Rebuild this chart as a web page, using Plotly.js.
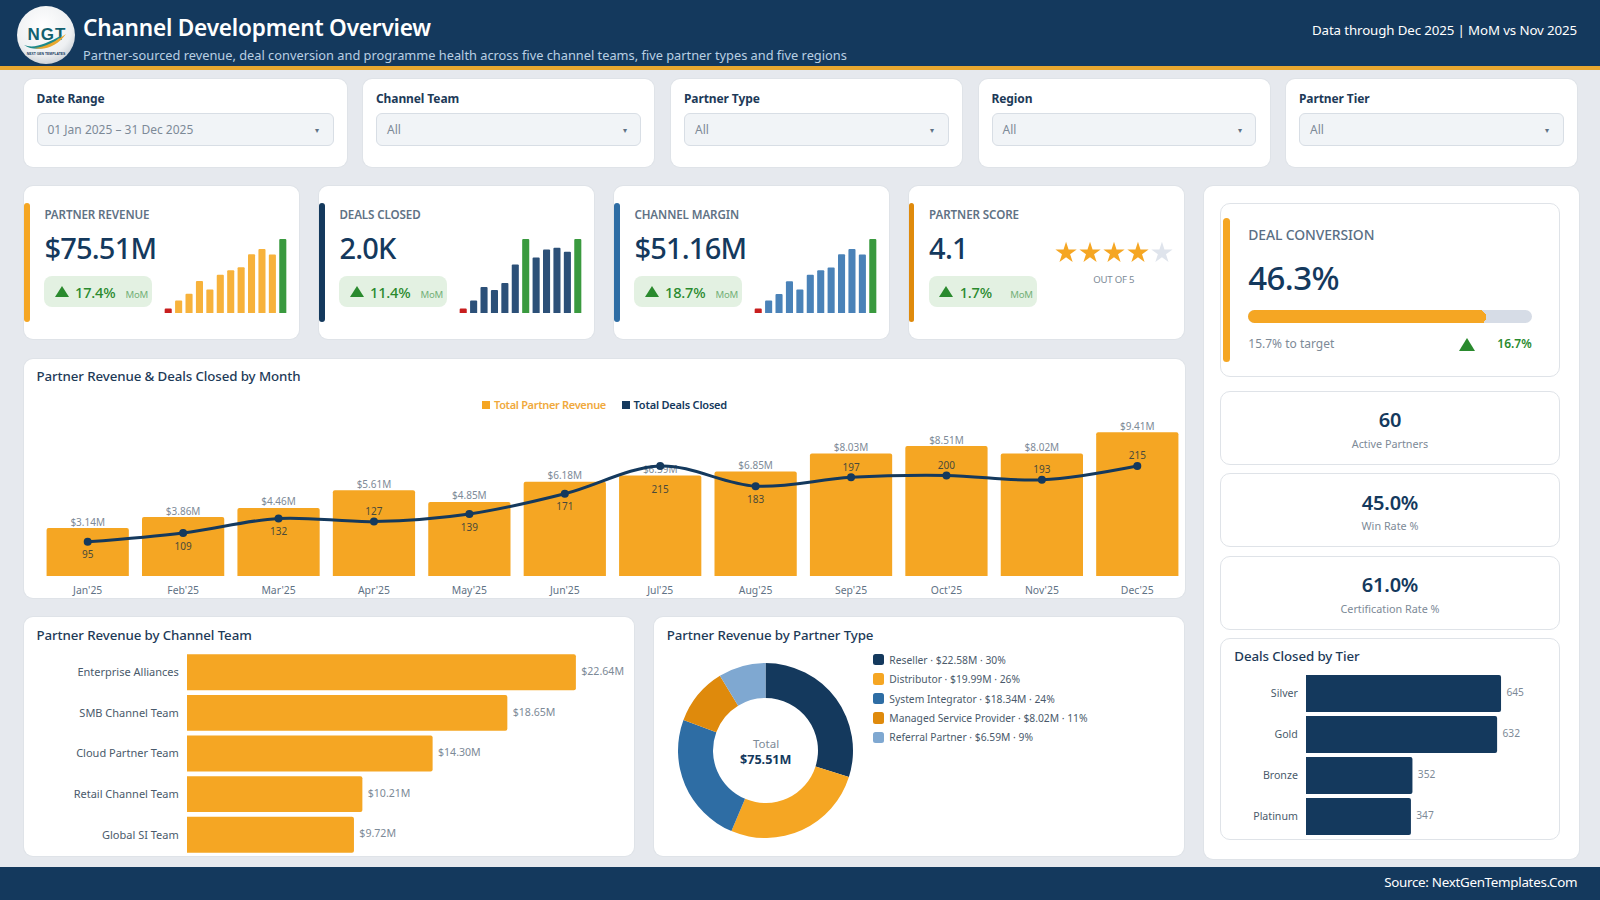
<!DOCTYPE html>
<html><head><meta charset="utf-8">
<script src="https://cdn.plot.ly/plotly-3.0.1.min.js"></script>
<style>
*{box-sizing:border-box}
html,body{margin:0;padding:0;width:1600px;height:900px;overflow:hidden;background:#e6e9ee;font-family:"Noto Sans",sans-serif;color:#14395d}
.a{position:absolute;white-space:nowrap}
.card{position:absolute;background:#fff;border-radius:9px;box-shadow:0 0 0 1px #dfe3e8}
.sub{position:absolute;background:#fff;border:1.5px solid #dfe3e8;border-radius:10px}
.ttl{position:absolute;white-space:nowrap;font-size:13.3px;font-weight:500;color:#1d3a58;line-height:18px;letter-spacing:-.1px}
.lab{position:absolute;white-space:nowrap;font-size:11.6px;font-weight:600;color:#5f7285;line-height:14px;letter-spacing:-.1px}
.val{position:absolute;white-space:nowrap;font-size:29px;font-weight:500;color:#14395d;line-height:36px;letter-spacing:-.8px}
.drop{position:absolute;background:#f1f4f7;border:1.5px solid #d8dee5;border-radius:6px;top:113px;height:33px}
.flabel{position:absolute;top:90px;font-size:12px;font-weight:700;color:#1d3a58;line-height:17px;letter-spacing:-.1px;white-space:nowrap}
.dtxt{position:absolute;top:121px;font-size:12px;color:#7d8a97;line-height:17px;white-space:nowrap}
.tri{position:absolute;width:0;height:0;border-left:7px solid transparent;border-right:7px solid transparent;border-bottom:11px solid #2a8a2e}
.pill{position:absolute;background:#e3f1e2;border-radius:8px;top:276px;height:31px;width:108px}
.chart{position:absolute}
</style></head><body>
<div id="root"></div>
<script>
// ---- data ----
var months = ["Jan'25","Feb'25","Mar'25","Apr'25","May'25","Jun'25","Jul'25","Aug'25","Sep'25","Oct'25","Nov'25","Dec'25"];
var revenue = [3.14,3.86,4.46,5.61,4.85,6.18,6.59,6.85,8.03,8.51,8.02,9.41];
var deals = [95,109,132,127,139,171,215,183,197,200,193,215];
var margin = [2.13,2.62,3.02,3.80,3.29,4.19,4.46,4.64,5.44,5.77,5.43,6.38];
var teams = ["Enterprise Alliances","SMB Channel Team","Cloud Partner Team","Retail Channel Team","Global SI Team"];
var teamRevenue = [22.64,18.65,14.30,10.21,9.72];
var partnerTypes = ["Reseller","Distributor","System Integrator","Managed Service Provider","Referral Partner"];
var partnerRevenue = [22.58,19.99,18.34,8.02,6.59];
var partnerShare = [30,26,24,11,9];
var tiers = ["Silver","Gold","Bronze","Platinum"];
var tierDeals = [645,632,352,347];
var starValues = [1,2,3,4,5];
var conversion = 46.3;

// ---- styles ----
var partnerColors = ["#14395d","#f5a623","#2e6da4","#df8a0c","#7fa8d1"];
var starColors = ["#f5a623","#f5a623","#f5a623","#f5a623","#dfe4ec"];
var dealLabelPos = ["bottom center","bottom center","bottom center","top center","bottom center","bottom center","bottom center","bottom center","top center","top center","top center","top center"];
var dealLabelGap = [13,13,13,5,13,13,30,13,5,5,5,5];

var filters = [
 {l:"Date Range",v:"01 Jan 2025 – 31 Dec 2025",cx:23.5,cw:323,dx:36.5,dw:297.5,arr:317},
 {l:"Channel Team",v:"All",cx:363,cw:291,dx:376,dw:264.5,arr:624.5},
 {l:"Partner Type",v:"All",cx:671,cw:291,dx:684,dw:264.5,arr:932},
 {l:"Region",v:"All",cx:978.5,cw:291,dx:991.5,dw:264,arr:1239.5},
 {l:"Partner Tier",v:"All",cx:1286,cw:291,dx:1299,dw:264.5,arr:1547}
];
var kpis = [
 {x:24,l:"PARTNER REVENUE",v:"$75.51M",d:"17.4%",c:"#f5a623"},
 {x:319,l:"DEALS CLOSED",v:"2.0K",d:"11.4%",c:"#14395d"},
 {x:614,l:"CHANNEL MARGIN",v:"$51.16M",d:"18.7%",c:"#2e6da4"},
 {x:908.7,l:"PARTNER SCORE",v:"4.1",d:"1.7%",c:"#df8a0c"}
];
var stats = [
 {v:"60",l:"Active Partners",t:390.5,h:74},
 {v:"45.0%",l:"Win Rate %",t:473,h:74},
 {v:"61.0%",l:"Certification Rate %",t:555.5,h:74}
];

// ---- static page ----
var root = document.getElementById('root'), h = '';
function box(cls,x,y,w,ht,extra){return '<div class="'+cls+'" style="left:'+x+'px;top:'+y+'px;width:'+w+'px;height:'+ht+'px;'+(extra||'')+'"></div>';}
function txt(s,x,cy,size,color,weight,align,extra){
  var pos = align==='r' ? 'right:'+(1600-x)+'px' : align==='c' ? 'left:'+x+'px;transform:translateX(-50%)' : 'left:'+x+'px';
  return '<div class="a" style="'+pos+';top:'+(cy-15)+'px;line-height:30px;font-size:'+size+'px;color:'+color+';font-weight:'+(weight||400)+';'+(extra||'')+'">'+s+'</div>';
}
// header
h += box('a',0,0,1600,66,'background:#14395d');
h += box('a',0,66,1600,4,'background:#e8a72f');
h += '<svg class="a" style="left:16px;top:5px" width="60" height="60" viewBox="0 0 60 60"><defs><radialGradient id="lg" cx="45%" cy="35%" r="70%"><stop offset="0" stop-color="#ffffff"/><stop offset=".7" stop-color="#eef0f2"/><stop offset="1" stop-color="#c6ccd2"/></radialGradient></defs><circle cx="30" cy="30" r="29" fill="url(#lg)"/><text x="31" y="35" text-anchor="middle" font-family="Liberation Sans" font-weight="700" font-size="17" letter-spacing="1" fill="#12606f">NGT</text><path d="M8 40 C18 44 30 39 46 30 C36 43 20 48 8 40Z" fill="#1c8a8a"/><path d="M18 43 C30 42 40 36 50 29 C42 40 30 46 18 43Z" fill="#e8a72f"/><text x="30" y="50" text-anchor="middle" font-family="Liberation Sans" font-weight="700" font-size="3.4" fill="#14395d">NEXT GEN TEMPLATES</text></svg>';
h += txt('Channel Development Overview',83,27.5,22.6,'#fff',600,'l','letter-spacing:-.2px');
h += txt('Partner-sourced revenue, deal conversion and programme health across five channel teams, five partner types and five regions',83,54.7,12.8,'#b9cfe3',400,'l');
h += txt('Data through Dec 2025 | MoM vs Nov 2025',1577,30,13.3,'#fff',400,'r','letter-spacing:-.12px');
// filters
filters.forEach(function(f){
  h += box('card',f.cx,78.5,f.cw,88);
  h += '<div class="flabel" style="left:'+f.dx+'px">'+f.l+'</div>';
  h += box('drop',f.dx,113,f.dw,33);
  h += '<div class="dtxt" style="left:'+(f.dx+11)+'px">'+f.v+'</div>';
  h += txt('▾',f.arr,129.5,8,'#5f7285',400,'c');
});
// kpis
kpis.forEach(function(k){
  h += box('card',k.x,186,275,153);
  h += box('a',k.x,203,5.5,119,'background:'+k.c+';border-radius:3px');
  h += '<div class="lab" style="left:'+(k.x+20.4)+'px;top:208px">'+k.l+'</div>';
  h += '<div class="val" style="left:'+(k.x+20.4)+'px;top:230px">'+k.v+'</div>';
  h += '<div class="pill" style="left:'+(k.x+20.4)+'px"></div>';
  h += '<div class="tri" style="left:'+(k.x+30.6)+'px;top:286px"></div>';
  h += txt(k.d,k.x+51,292,14.6,'#2a8a2e',500,'l','letter-spacing:-.2px');
  h += txt('MoM',k.x+101.5,295,9.6,'#74b078',400,'l','letter-spacing:-.2px');
});
h += txt('OUT OF 5',1113.8,279.7,9.6,'#7d8a97',400,'c','letter-spacing:-.2px');
// main chart card
h += box('card',24,359,1160.5,239);
h += '<div class="ttl" style="left:36.5px;top:367px">Partner Revenue &amp; Deals Closed by Month</div>';
h += box('a',482,401,8,8,'background:#f5a623');
h += txt('Total Partner Revenue',494,405,11,'#f0a93c',600,'l','letter-spacing:-.33px');
h += box('a',621.5,401,8,8,'background:#14395d');
h += txt('Total Deals Closed',633.5,405,11,'#14395d',600,'l','letter-spacing:-.2px');
// bottom cards
h += box('card',24,617,609.5,239);
h += '<div class="ttl" style="left:36.5px;top:626px">Partner Revenue by Channel Team</div>';
h += box('card',653.5,617,530,239);
h += '<div class="ttl" style="left:666.8px;top:626px">Partner Revenue by Partner Type</div>';
partnerTypes.forEach(function(p,i){
  var cy = 659.7+i*19.4;
  h += box('a',873,cy-5.7,11.4,11.4,'background:'+partnerColors[i]+';border-radius:2.5px');
  h += txt(p+' · $'+partnerRevenue[i].toFixed(2)+'M · '+partnerShare[i]+'%',889.3,cy,10.3,'#4a5a6b',400,'l');
});
// right panel
h += box('card',1204,186,375,673);
h += box('sub',1220.2,202.5,339.6,174.5);
h += box('a',1223.3,217.7,6.7,144.6,'background:#f5a623;border-radius:3.5px');
h += txt('DEAL CONVERSION',1248.3,235,13.9,'#5a6f85',500,'l','letter-spacing:-.1px');
h += txt('46.3%',1248.3,278,33,'#14395d',500,'l','letter-spacing:-.6px');
h += box('a',1248.3,309.7,283.4,13.6,'background:#d6dce6;border-radius:7px');
h += txt('15.7% to target',1248.3,344,12,'#7d8a97',400,'l');
h += '<div class="tri" style="left:1458.7px;top:338px;border-left-width:8px;border-right-width:8px;border-bottom-width:13.5px"></div>';
h += txt('16.7%',1531.7,343.5,12,'#2a8a2e',600,'r');
stats.forEach(function(s){
  h += box('sub',1220.2,s.t,339.6,s.h);
  h += txt(s.v,1390,s.t+29.7,20,'#14395d',600,'c','letter-spacing:-.2px');
  h += txt(s.l,1390,s.t+53.4,10.8,'#7d8a97',400,'c');
});
h += box('sub',1220.2,638,339.6,201.5);
h += '<div class="ttl" style="left:1234.3px;top:647px">Deals Closed by Tier</div>';
// footer
h += box('a',0,867,1600,33,'background:#14395d');
h += txt('Source: NextGenTemplates.Com',1577.3,881.7,13.4,'#fff',400,'r','letter-spacing:-.3px');
// chart holders
function holder(id,x,y,w,ht,extra){return '<div id="'+id+'" class="chart" style="left:'+x+'px;top:'+y+'px;width:'+w+'px;height:'+ht+'px;'+(extra||'')+'"></div>';}
h += holder('c_spark0',24+138.8,236,125.4,77);
h += holder('c_spark1',319+138.8,236,125.4,77);
h += holder('c_spark2',614+138.8,236,125.4,77);
h += holder('c_stars',1050,240.5,128,24);
h += holder('c_main',24,410,1162,188);
h += holder('c_team',24,640,609,216);
h += holder('c_donut',654,650,224,204);
h += holder('c_gauge',1248.3,309.7,283.4,13.6,'border-radius:7px;overflow:hidden');
h += holder('c_tier',1221,665,338,174);
root.innerHTML = h;

// ---- charts ----
var FONT = '"Noto Sans",sans-serif';
var cfg = {staticPlot:true,displayModeBar:false,responsive:false};
var hidden = {visible:false,showgrid:false,zeroline:false,fixedrange:true};
var clearTick = {ticks:'outside',tickcolor:'rgba(0,0,0,0)',tickwidth:1};
function base(w,ht,m){return {width:w,height:ht,margin:m,paper_bgcolor:'rgba(0,0,0,0)',plot_bgcolor:'rgba(0,0,0,0)',showlegend:false,font:{family:FONT}};}

function spark(id,vals,col,lo){
  var mx=Math.max.apply(null,vals), mn=Math.min.apply(null,vals);
  var colors=vals.map(function(v,i){return (v===mx)?'#3a9a3f':(v===mn)?'#c81e1e':col;});
  Plotly.newPlot(id,[{type:'bar',x:months,y:vals,marker:{color:colors,cornerradius:1.5},hoverinfo:'skip'}],
    Object.assign(base(125.4,77,{l:0,r:0,t:3,b:0}),{bargap:.32,xaxis:Object.assign({},hidden,{type:'category'}),yaxis:Object.assign({},hidden,{range:[lo,mx]})}),cfg);
}
spark('c_spark0',revenue,'#f7b23b',2.73);
spark('c_spark1',deals,'#2c5078',87.2);
spark('c_spark2',margin,'#4a82b8',1.85);

Plotly.newPlot('c_stars',[{type:'scatter',mode:'markers',x:starValues,y:[0,0,0,0,0],marker:{symbol:'star',size:16,color:starColors,line:{width:0}},hoverinfo:'skip'}],
  Object.assign(base(128,24,{l:0,r:0,t:0,b:0}),{xaxis:Object.assign({},hidden,{range:[0.33,5.67]}),yaxis:Object.assign({},hidden,{range:[-1,1]})}),cfg);

Plotly.newPlot('c_main',[
 {type:'bar',x:months,y:revenue,marker:{color:'#f5a623',cornerradius:2.5},hoverinfo:'skip',yaxis:'y'},
 {type:'scatter',mode:'text',x:months,y:revenue,text:revenue.map(function(v){return '$'+v.toFixed(2)+'M';}),textposition:'top center',cliponaxis:false,
  textfont:{size:10,color:'#7d8a97',family:FONT},hoverinfo:'skip',yaxis:'y'},
 {type:'scatter',mode:'lines+markers',x:months,y:deals,line:{color:'#14395d',width:3,shape:'spline',smoothing:1},marker:{color:'#14395d',size:8},hoverinfo:'skip',yaxis:'y2'},
 {type:'scatter',mode:'markers+text',x:months,y:deals,text:deals.map(String),textposition:dealLabelPos,cliponaxis:false,
  textfont:{size:10,color:'#4a4a3a',family:FONT},marker:{color:'rgba(0,0,0,0)',size:dealLabelGap,line:{width:0,color:'rgba(0,0,0,0)'}},hoverinfo:'skip',yaxis:'y2'}
],Object.assign(base(1162,188,{l:15.7,r:0.8,t:5,b:22.4}),{bargap:.138,
  xaxis:Object.assign({type:'category',range:[-.5,11.5],showgrid:false,zeroline:false,showline:false,ticklen:5,tickfont:{size:10.4,color:'#5f7285',family:FONT},fixedrange:true},clearTick),
  yaxis:Object.assign({},hidden,{range:[0,10.546]}),
  yaxis2:Object.assign({},hidden,{overlaying:'y',range:[41,295.5]})}),cfg);

function hbar(id,cats,vals,w,ht,m,rng,gap,col,labels,size,tl){
  Plotly.newPlot(id,[
    {type:'bar',orientation:'h',y:cats,x:vals,marker:{color:col,cornerradius:2.5},hoverinfo:'skip'},
    {type:'scatter',mode:'markers+text',y:cats,x:vals,text:labels,textposition:'middle right',cliponaxis:false,
     textfont:{size:size,color:'#7d8a97',family:FONT},marker:{color:'rgba(0,0,0,0)',size:7,line:{width:0}},hoverinfo:'skip'}],
    Object.assign(base(w,ht,m),{bargap:gap,
      xaxis:Object.assign({},hidden,{range:rng}),
      yaxis:Object.assign({type:'category',range:[cats.length-.5,-.5],showgrid:false,zeroline:false,showline:false,ticklen:tl,tickfont:{size:size+.4,color:'#4a5a6b',family:FONT},fixedrange:true},clearTick)}),cfg);
}
hbar('c_team',teams,teamRevenue,609,216,{l:162.6,r:8,t:11.5,b:1.4},[0,25.5],.115,'#f5a623',teamRevenue.map(function(v){return '$'+v.toFixed(2)+'M';}),10.6,5);
hbar('c_tier',tiers,tierDeals,338,174,{l:85.3,r:12,t:8.3,b:2.3},[0,797],.10,'#14395d',tierDeals.map(String),10.2,5);

Plotly.newPlot('c_donut',[{type:'pie',labels:partnerTypes,values:partnerRevenue,hole:.6,sort:false,direction:'clockwise',rotation:0,textinfo:'none',
  marker:{colors:partnerColors,line:{width:0}},hoverinfo:'skip',domain:{x:[0,1],y:[0,1]}}],
  Object.assign(base(224,204,{l:24.2,r:24.8,t:13.3,b:15.7}),{annotations:[
   {text:'Total',x:.5,y:.5,xref:'paper',yref:'paper',xanchor:'center',yanchor:'middle',yshift:7,showarrow:false,font:{size:11.5,color:'#7d8a97',family:FONT}},
   {text:'<b>$75.51M</b>',x:.5,y:.5,xref:'paper',yref:'paper',xanchor:'center',yanchor:'middle',yshift:-8.5,showarrow:false,font:{size:12.6,color:'#14395d',family:FONT}}
  ]}),cfg);

Plotly.newPlot('c_gauge',[{type:'bar',orientation:'h',x:[conversion],y:['Deal Conversion'],marker:{color:'#f5a623',cornerradius:'50%'},hoverinfo:'skip'}],
  Object.assign(base(283.4,13.6,{l:0,r:0,t:0,b:0}),{bargap:0,xaxis:Object.assign({},hidden,{range:[0,55]}),yaxis:Object.assign({},hidden,{type:'category'})}),cfg);
</script>
</body></html>
